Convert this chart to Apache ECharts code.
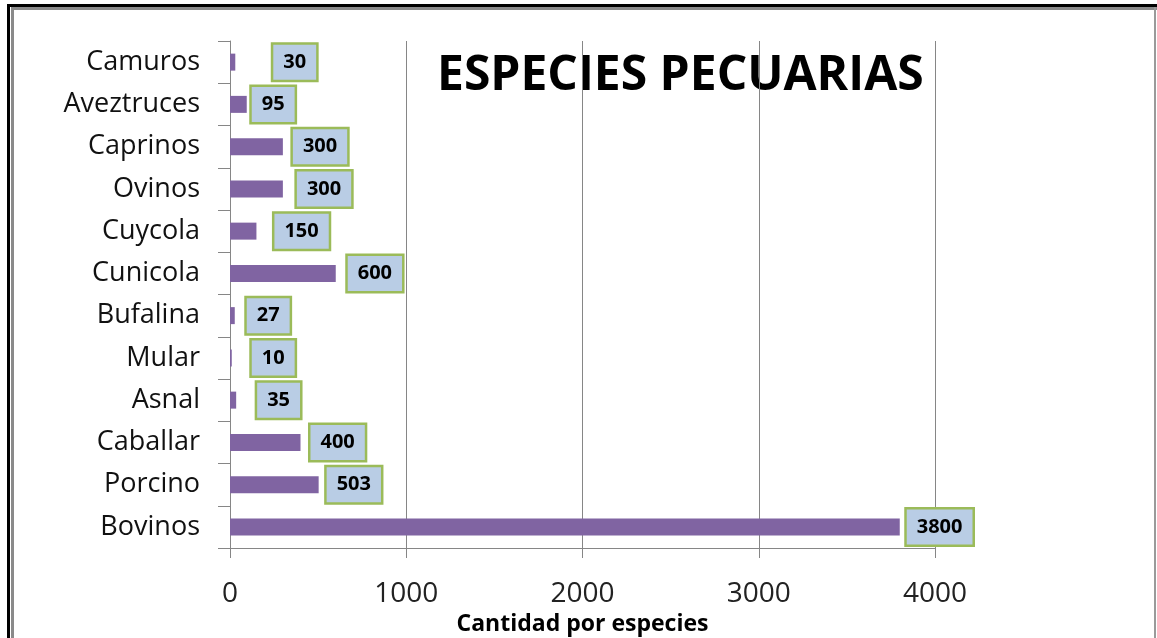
<!DOCTYPE html>
<html>
<head>
<meta charset="utf-8">
<script src="https://cdn.jsdelivr.net/npm/echarts@6/dist/echarts.min.js"></script>
<style>
  html, body { margin: 0; padding: 0; background: #fff; }
  #wrap { position: relative; width: 1157px; height: 638px; overflow: hidden; }
  #chart { position: absolute; left: 0; top: 0; width: 1157px; height: 638px; }
  .ln { position: absolute; }
</style>
</head>
<body>
<div id="wrap">
  <div id="chart"></div>
  <div class="ln" style="left:7px;top:4px;width:3px;height:640px;background:#000"></div>
  <div class="ln" style="left:7px;top:4px;width:1160px;height:3px;background:#000"></div>
  <div class="ln" style="left:11px;top:7px;width:3px;height:640px;background:#8a8a8a"></div>
  <div class="ln" style="left:11px;top:7px;width:1150px;height:3px;background:#8a8a8a"></div>
  <div class="ln" style="left:1154px;top:7px;width:2px;height:640px;background:#9a9a9a"></div>
</div>
<script>
// bottom to top, as the category axis stacks them
const species = ['Bovinos', 'Porcino', 'Caballar', 'Asnal', 'Mular', 'Bufalina',
  'Cunicola', 'Cuycola', 'Ovinos', 'Caprinos', 'Aveztruces', 'Camuros'];
const counts = [3800, 503, 400, 35, 10, 27, 600, 150, 300, 300, 95, 30];
const xTicks = [0, 1000, 2000, 3000, 4000];

// gap between bar end and its label box, per bar
const labelGap = [7, 8, 10, 21, 20, 12, 12, 18, 14, 10, 5, 38];

const chart = echarts.init(document.getElementById('chart'));

const option = {
  animation: false,
  backgroundColor: '#fff',
  grid: { left: 230, right: 222, top: 41, bottom: 90, containLabel: false, outerBoundsMode: 'none' },
  graphic: [{
    type: 'text',
    left: 437,
    top: 52,
    style: {
      text: 'ESPECIES PECUARIAS',
      font: 'bold 48px "Open Sans"',
      fill: '#000'
    }
  }],
  xAxis: {
    type: 'value',
    min: xTicks[0],
    max: xTicks[xTicks.length - 1],
    interval: 1000,
    name: 'Cantidad por especies',
    nameLocation: 'middle',
    nameGap: 58,
    nameTextStyle: { fontFamily: 'Open Sans', fontWeight: 'bold', fontSize: 23, color: '#000' },
    axisLine: { show: true, lineStyle: { color: '#868686', width: 1 } },
    axisTick: { show: true, length: 10, lineStyle: { color: '#868686' } },
    axisLabel: { fontFamily: 'Open Sans', fontSize: 28, color: '#222', margin: 32, formatter: v => String(v) },
    splitLine: { show: true, lineStyle: { color: '#868686', width: 1 } }
  },
  yAxis: {
    type: 'category',
    data: species,
    axisLine: { show: true, lineStyle: { color: '#868686', width: 1 } },
    axisTick: { show: true, length: 12, inside: false, lineStyle: { color: '#868686' } },
    axisLabel: { fontFamily: 'Open Sans', fontSize: 27, color: '#111', margin: 30 },
    splitLine: { show: false }
  },
  series: [{
    type: 'bar',
    barWidth: 17,
    itemStyle: { color: '#8064a2' },
    data: counts.map((v, i) => ({
      value: v,
      label: { distance: labelGap[i] }
    })),
    label: {
      show: true,
      position: 'right',
      fontFamily: 'Open Sans',
      fontWeight: 'bold',
      fontSize: 20,
      color: '#000',
      backgroundColor: '#b9cde5',
      borderColor: '#9bbb59',
      borderWidth: 2.5,
      padding: [8, 10, 7, 10]
    }
  }]
};

chart.setOption(option);
</script>
</body>
</html>
